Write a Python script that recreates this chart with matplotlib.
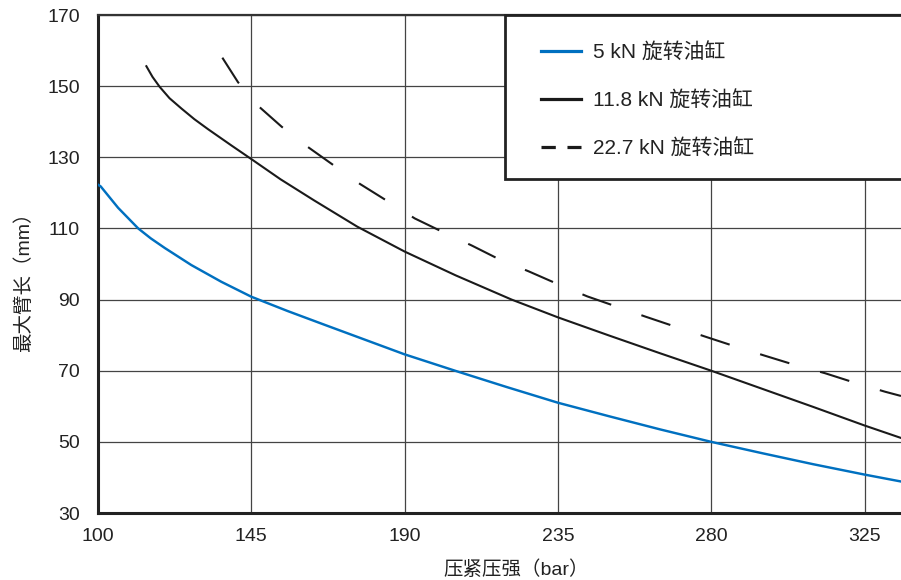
import matplotlib
matplotlib.use("Agg")
import matplotlib.pyplot as plt
from matplotlib.lines import Line2D
from matplotlib.patches import Rectangle

plt.rcParams["font.family"] = ["Liberation Sans", "Noto Sans CJK SC", "DejaVu Sans"]
plt.rcParams["lines.scale_dashes"] = False

# --- datos ---
p_5kn = [100, 100.8, 105.9, 111.8, 115.5, 119.6, 127.4, 136.2, 145, 155.6, 167.1, 190, 204.8,
         220, 235, 250, 265, 280, 295, 310, 325, 336]
l_5kn = [122.3, 121.8, 115.8, 110.0, 107.2, 104.5, 99.7, 95.0, 90.8, 86.8, 82.7, 74.6, 70.0,
         65.4, 61.0, 57.2, 53.5, 50.0, 46.8, 43.7, 40.8, 38.8]

p_118kn = [114.2, 116.0, 118.1, 121.0, 124.5, 128.3, 132.3, 139.2, 145, 153.6, 163.4, 176.1,
           190, 205, 221.4, 235, 250, 265, 280, 295, 310, 325, 336]
l_118kn = [155.6, 152.6, 149.8, 146.6, 143.7, 140.7, 137.9, 133.3, 129.5, 123.8, 117.9, 110.5,
           103.5, 96.8, 90.0, 85.0, 79.9, 74.9, 70.0, 64.9, 59.8, 54.6, 51.0]

p_227kn = [136.5, 141.1, 147.3, 153.9, 161.3, 168.8, 176.9, 184.6, 193, 201.2, 209.7, 217.8,
           226.5, 234.6, 243.6, 252, 260.7, 269.4, 278.5, 286.8, 295.8, 304.3, 313.4, 321.9,
           331, 335.7]
l_227kn = [158.0, 151.1, 144.2, 138.6, 133.1, 128.0, 122.5, 117.9, 112.8, 109.0, 105.2, 101.3,
           97.9, 94.5, 90.9, 88.1, 85.2, 82.4, 79.5, 76.9, 74.2, 71.7, 69.3, 66.7,
           64.1, 62.9]

x_ticks = [100, 145, 190, 235, 280, 325]
y_ticks = [30, 50, 70, 90, 110, 130, 150, 170]
etiquetas = ["5 kN 旋转油缸", "11.8 kN 旋转油缸", "22.7 kN 旋转油缸"]

azul = "#0070c0"
negro = "#1a1a1a"
texto = "#222222"

fig = plt.figure(figsize=(9.01, 5.8), dpi=100)
ax = fig.add_axes([98 / 901, 1 - 513 / 580, 803 / 901, 498 / 580])

ax.plot(p_5kn, l_5kn, color=azul, lw=1.75, zorder=3)
ax.plot(p_118kn, l_118kn, color=negro, lw=1.5, zorder=3)
ax.plot(p_227kn, l_227kn, color=negro, lw=1.5, dashes=(22, 23), zorder=3)

ax.set_xlim(100, 335.7)
ax.set_ylim(30, 170)
ax.set_xticks(x_ticks)
ax.set_yticks(y_ticks)
ax.tick_params(length=0, labelsize=14, colors=texto)
ax.tick_params(axis="x", pad=11)
ax.tick_params(axis="y", pad=13)
ax.grid(True, color="#444444", lw=0.9, zorder=1)
ax.set_axisbelow(True)

for lado in ["left", "bottom"]:
    ax.spines[lado].set_linewidth(2.2)
    ax.spines[lado].set_color(texto)
ax.spines["top"].set_linewidth(1.6)
ax.spines["top"].set_color("#333333")
ax.spines["right"].set_visible(False)

ax.set_xlabel("压紧压强（bar）", fontsize=14, color=texto)
ax.xaxis.set_label_coords((516 - 98) / 803, -(560 - 513) / 498)
ax.set_ylabel("最大臂长（mm）", fontsize=14, color=texto)
ax.yaxis.set_label_coords(-(98 - 33) / 803, (513 - 277) / 498)

# caja de la leyenda (se sale por la derecha como en el original)
caja = Rectangle(((505 - 98) / 803, (513 - 179) / 498), 0.6, (179 - 15) / 498,
                 transform=ax.transAxes, facecolor="white", edgecolor=texto,
                 lw=2, zorder=4, clip_on=False)
ax.add_patch(caja)

muestras = [
    Line2D([], [], color=azul, lw=2.3),
    Line2D([], [], color=negro, lw=2.3),
    Line2D([], [], color=negro, lw=2.3, dashes=(10.3, 8.4)),
]
leg = ax.legend(muestras, etiquetas, loc="upper left",
                bbox_to_anchor=((540.7 - 98) / 803, (513 - 42) / 498),
                frameon=False, fontsize=15, handlelength=1.94, handletextpad=0.56,
                labelspacing=1.35, borderpad=0, borderaxespad=0)
leg.set_zorder(5)
for t in leg.get_texts():
    t.set_color(texto)

fig.savefig("out.png", dpi=100)
